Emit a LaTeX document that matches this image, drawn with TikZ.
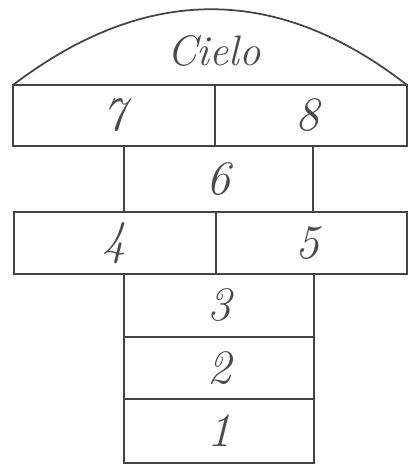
\documentclass[tikz,border=0pt]{standalone}
\usetikzlibrary{fit}
\definecolor{ink}{HTML}{444444}
\definecolor{txt}{HTML}{4A4A4A}
\begin{document}
\begin{tikzpicture}[x=0.75pt,y=-0.75pt,
  cell/.style={draw=ink, line width=1.4pt, inner sep=0pt, outer sep=0pt, rectangle},
  num/.style={font=\fontsize{36}{36}\selectfont\itshape, text=txt, inner sep=0pt},
  skyline/.style={draw=ink, line width=1.3pt}]
\useasboundingbox[fill=white] (0,0) rectangle (408,465);
% sky arc
\coordinate (skyL) at (13,85);
\coordinate (skyR) at (407,85);
\draw[skyline] (skyL) .. controls (146,-16) and (277,-16) .. (skyR);
\node[font=\fontsize{32}{32}\selectfont\itshape, text=txt] (cielo) at (214,51) {Cielo};
% cells
\node[cell, fit={(13,85) (215,146)}] (c7) {};
\node[cell, fit={(215,85) (407,146)}] (c8) {};
\node[cell, fit={(124,146) (313,212)}] (c6) {};
\node[cell, fit={(14,212) (216,274)}] (c4) {};
\node[cell, fit={(216,212) (407,274)}] (c5) {};
\node[cell, fit={(124,274) (314,337)}] (c3) {};
\node[cell, fit={(124,337) (314,399)}] (c2) {};
\node[cell, fit={(124,399) (314,463)}] (c1) {};
% numbers
\node[num] (t7) at (c7.center) {7};
\node[num] (t8) at ([xshift=-3pt]c8.center) {8};
\node[num] (t6) at (c6.center) {6};
\node[num] (t4) at (c4.center) {4};
\node[num] (t5) at ([xshift=-3pt]c5.center) {5};
\node[num] (t3) at (c3.center) {3};
\node[num] (t2) at (c2.center) {2};
\node[num] (t1) at (c1.center) {1};
\end{tikzpicture}
\end{document}
